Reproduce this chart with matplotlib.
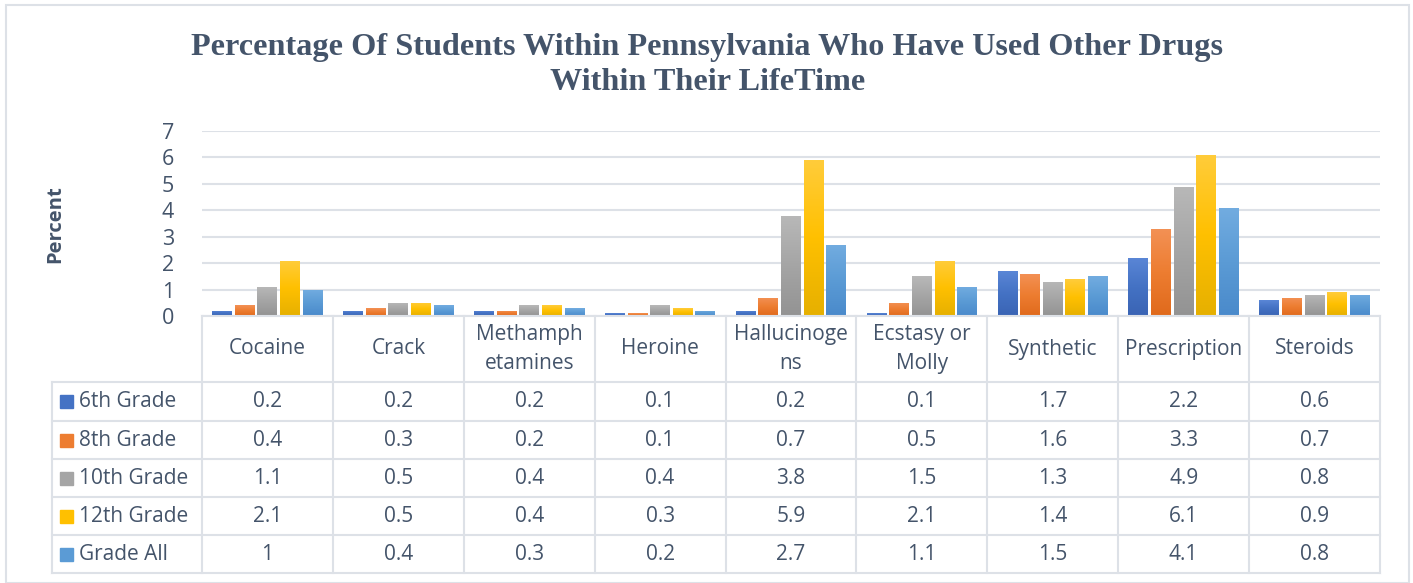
import matplotlib.pyplot as plt
from matplotlib.patches import Rectangle
import numpy as np

W, H = 1413, 583

categories = ["Cocaine", "Crack", "Methamph\netamines", "Heroine", "Hallucinoge\nns",
              "Ecstasy or\nMolly", "Synthetic", "Prescription", "Steroids"]
series_names = ["6th Grade", "8th Grade", "10th Grade", "12th Grade", "Grade All"]
grade6 = [0.2, 0.2, 0.2, 0.1, 0.2, 0.1, 1.7, 2.2, 0.6]
grade8 = [0.4, 0.3, 0.2, 0.1, 0.7, 0.5, 1.6, 3.3, 0.7]
grade10 = [1.1, 0.5, 0.4, 0.4, 3.8, 1.5, 1.3, 4.9, 0.8]
grade12 = [2.1, 0.5, 0.4, 0.3, 5.9, 2.1, 1.4, 6.1, 0.9]
grade_all = [1, 0.4, 0.3, 0.2, 2.7, 1.1, 1.5, 4.1, 0.8]
series = [grade6, grade8, grade10, grade12, grade_all]

colors = ["#4472C4", "#ED7D31", "#A5A5A5", "#FFC000", "#5B9BD5"]
light = ["#5A86D6", "#F39155", "#B8B8B8", "#FFCC3A", "#72ACE0"]
dark = ["#3A64B4", "#E06A1C", "#939393", "#E6B000", "#4A8ACB"]
TXT = "#44546A"
GRID = "#DDE1E7"
FONT = "Open Sans"
FS = 15


def px(x, y):
    return x / W, 1 - y / H


fig = plt.figure(figsize=(W / 100, H / 100), dpi=100)
fig.patches.append(Rectangle((6 / W, 0), 1403 / W, 1 - 5 / H, transform=fig.transFigure,
                             fill=False, edgecolor=GRID, linewidth=1.5))

# plot area
x0, x1, ytop, ybot = 202, 1380, 131, 316
ax = fig.add_axes([x0 / W, 1 - ybot / H, (x1 - x0) / W, (ybot - ytop) / H])
n = len(categories)
ax.set_xlim(-0.5, n - 0.5)
ax.set_ylim(0, 7)
ax.set_yticks(range(8))
ax.set_xticks([])
ax.tick_params(axis="y", length=0, labelsize=15.5, labelcolor=TXT, pad=20)
for lab in ax.get_yticklabels():
    lab.set_fontfamily(FONT)
ax.grid(axis="y", color=GRID, linewidth=1.5)
ax.set_axisbelow(True)
for s in ax.spines.values():
    s.set_visible(False)

bw = 0.152
step = 0.173
xs = np.arange(n)
for i, vals in enumerate(series):
    bars = ax.bar(xs + (i - 2) * step, vals, width=bw, color=colors[i], zorder=2)
    grad = np.linspace(0, 1, 64).reshape(-1, 1)
    cmap = plt.matplotlib.colors.LinearSegmentedColormap.from_list("g", [dark[i], colors[i], light[i]])
    for b in bars:
        bx, by = b.get_x(), b.get_y()
        im = ax.imshow(grad, cmap=cmap, aspect="auto", origin="lower",
                       extent=(bx, bx + b.get_width(), by, by + b.get_height()), zorder=3)
        im.set_clip_path(b)
ax.set_xlim(-0.5, n - 0.5)
ax.set_ylim(0, 7)

fig.text(*px(55, 224), "Percent", rotation=90, ha="center", va="center",
         fontsize=14.5, fontweight="bold", color=TXT, family=FONT)

fig.text(*px(707, 48), "Percentage Of Students Within Pennsylvania Who Have Used Other Drugs",
         ha="center", va="center", fontsize=23.2, fontweight="bold", color=TXT,
         family="Liberation Serif")
fig.text(*px(708, 82), "Within Their LifeTime", ha="center", va="center", fontsize=23.2,
         fontweight="bold", color=TXT, family="Liberation Serif")

# data table
col_w = (x1 - x0) / n
row_y = [316, 382, 421, 459, 497, 535, 573]
lw = 1.5
for k in range(n + 1):
    xx = x0 + k * col_w
    fig.add_artist(plt.Line2D([xx / W] * 2, [1 - 316 / H, 1 - 573 / H], color=GRID, lw=lw))
fig.add_artist(plt.Line2D([52 / W] * 2, [1 - 382 / H, 1 - 573 / H], color=GRID, lw=lw))
for j, yy in enumerate(row_y):
    left = x0 if j == 0 else 52
    fig.add_artist(plt.Line2D([left / W, x1 / W], [1 - yy / H] * 2, color=GRID, lw=lw))

for k, cat in enumerate(categories):
    cx = x0 + (k + 0.5) * col_w
    fig.text(*px(cx, 349), cat, ha="center", va="center", fontsize=FS, color=TXT,
             family=FONT, linespacing=1.45)

for j, name in enumerate(series_names):
    cy = (row_y[j + 1] + row_y[j + 2]) / 2
    fig.patches.append(Rectangle((60 / W, 1 - (cy + 6.5) / H), 13 / W, 13 / H,
                                 transform=fig.transFigure, color=colors[j]))
    fig.text(*px(79, cy), name, ha="left", va="center", fontsize=FS, color=TXT, family=FONT)
    for k, v in enumerate(series[j]):
        cx = x0 + (k + 0.5) * col_w
        fig.text(*px(cx, cy), f"{v:g}", ha="center", va="center", fontsize=FS,
                 color=TXT, family=FONT)

fig.savefig("out.png", dpi=100)
